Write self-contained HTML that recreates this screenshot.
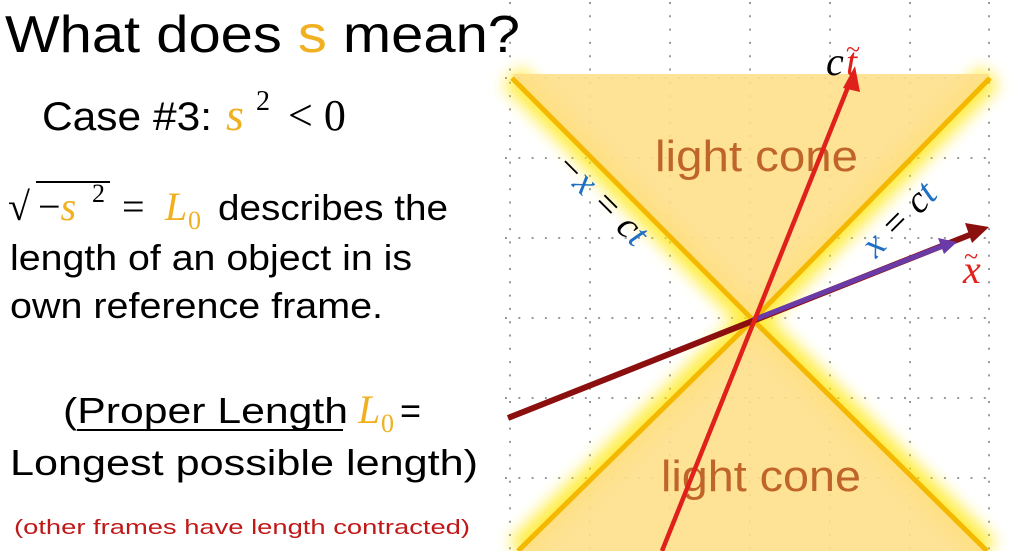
<!DOCTYPE html>
<html><head><meta charset="utf-8"><style>
html,body{margin:0;padding:0;background:#fff;width:1023px;height:551px;overflow:hidden}
svg{display:block}
</style></head><body>
<svg width="1023" height="551" viewBox="0 0 1023 551" xmlns="http://www.w3.org/2000/svg">
<defs>
<filter id="blur" x="-20%" y="-20%" width="140%" height="140%"><feGaussianBlur stdDeviation="8"/></filter>
</defs>
<rect width="1023" height="551" fill="#fff"/>
<!-- grid -->
<g stroke="#9a9a9a" stroke-width="2" stroke-dasharray="2 11.3" fill="none">
<line x1="510" y1="2" x2="510" y2="551"/><line x1="590" y1="2" x2="590" y2="551"/><line x1="670" y1="2" x2="670" y2="551"/><line x1="750" y1="2" x2="750" y2="551"/><line x1="830" y1="2" x2="830" y2="551"/><line x1="910" y1="2" x2="910" y2="551"/><line x1="989" y1="2" x2="989" y2="551"/>
<line x1="505" y1="78" x2="995" y2="78"/><line x1="505" y1="158" x2="995" y2="158"/><line x1="505" y1="238" x2="995" y2="238"/><line x1="505" y1="318" x2="995" y2="318"/><line x1="505" y1="398" x2="995" y2="398"/><line x1="505" y1="478" x2="995" y2="478"/>
</g>
<!-- cones glow -->
<g filter="url(#blur)" stroke="#ffe600" stroke-width="26" fill="none" opacity="0.75">
<polyline points="512,76 753,320 990,76"/>
<polyline points="518,551 753,320 987,551"/>
</g>
<polygon points="512,74 990,74 753,320" fill="#fedf8a" opacity="0.9"/>
<polygon points="753,320 518,551 987,551" fill="#fedf8a" opacity="0.9"/>
<g stroke="#f5b800" stroke-width="5" fill="none">
<polyline points="512,78 753,320 990,78"/>
<polyline points="518,551 753,320 987,551"/>
</g>
<!-- light cone labels -->
<g font-family="Liberation Sans, sans-serif" font-size="44" fill="#c0652a">
<text x="655" y="171" textLength="203" lengthAdjust="spacingAndGlyphs">light cone</text>
<text x="661" y="491" textLength="200" lengthAdjust="spacingAndGlyphs">light cone</text>
</g>
<!-- axes -->
<line x1="508" y1="418" x2="972" y2="234" stroke="#8b0f0f" stroke-width="6"/>
<polygon points="989,227 965,223 972,243" fill="#8b0f0f"/>
<line x1="753" y1="320" x2="945" y2="245" stroke="#6a3aa8" stroke-width="5"/>
<polygon points="957,242 938,238 944,254" fill="#6a3aa8"/>
<line x1="662" y1="551" x2="850" y2="82" stroke="#e0201a" stroke-width="4.5"/>
<polygon points="855,66 843,88 860,92" fill="#e0201a"/>
<!-- axis labels -->
<g font-family="Liberation Serif, serif" font-style="italic" font-size="40">
<text x="826" y="75" fill="#000">c</text>
<text x="846" y="75" fill="#e0201a">t</text>
<text x="846" y="58" fill="#e0201a" font-size="26" font-style="normal">~</text>
<text x="963" y="283" fill="#e0201a">x</text>
<text x="964" y="265" fill="#e0201a" font-size="26" font-style="normal">~</text>
</g>
<g font-family="Liberation Serif, serif" font-style="italic" font-size="38">
<text transform="translate(553,167) rotate(45)"><tspan fill="#000">−</tspan><tspan fill="#1f6fc2">x</tspan><tspan fill="#000"> = c</tspan><tspan fill="#1f6fc2">t</tspan></text>
<text transform="translate(876,259) rotate(-45)"><tspan fill="#1f6fc2">x</tspan><tspan fill="#000"> = c</tspan><tspan fill="#1f6fc2">t</tspan></text>
</g>
<!-- left text -->
<g font-family="Liberation Sans, sans-serif" fill="#000">
<text x="5" y="52" font-size="52" textLength="515" lengthAdjust="spacingAndGlyphs">What does <tspan fill="#f0b020">s</tspan> mean?</text>
<text x="42" y="130" font-size="40" textLength="170" lengthAdjust="spacingAndGlyphs">Case #3:</text>
<text x="226" y="130" font-size="46" font-family="Liberation Serif, serif" font-style="italic" fill="#f0b020">s</text>
<text x="256" y="110" font-size="28" font-family="Liberation Serif, serif">2</text>
<text x="288" y="130" font-size="44" font-family="Liberation Serif, serif">&lt; 0</text>
<text x="8" y="220" font-size="40" font-family="Liberation Serif, serif">√</text>
<line x1="36" y1="182" x2="110" y2="182" stroke="#000" stroke-width="2"/>
<text x="38" y="220" font-size="40" font-family="Liberation Serif, serif">−<tspan font-style="italic" fill="#f0b020">s</tspan></text>
<text x="92" y="202" font-size="26" font-family="Liberation Serif, serif">2</text>
<text x="122" y="220" font-size="40" font-family="Liberation Serif, serif">=</text>
<text x="165" y="220" font-size="40" font-family="Liberation Serif, serif" font-style="italic" fill="#f0b020">L</text>
<text x="188" y="229" font-size="26" font-family="Liberation Serif, serif" fill="#f0b020">0</text>
<text x="218" y="220" font-size="36" textLength="230" lengthAdjust="spacingAndGlyphs">describes the</text>
<text x="10" y="270" font-size="36" textLength="402" lengthAdjust="spacingAndGlyphs">length of an object in is</text>
<text x="10" y="318" font-size="36" textLength="373" lengthAdjust="spacingAndGlyphs">own reference frame.</text>
<text x="63" y="423" font-size="36" textLength="285" lengthAdjust="spacingAndGlyphs">(Proper Length</text>
<line x1="77" y1="430" x2="343" y2="430" stroke="#000" stroke-width="2"/>
<text x="358" y="423" font-size="40" font-family="Liberation Serif, serif" font-style="italic" fill="#f0b020">L</text>
<text x="381" y="432" font-size="26" font-family="Liberation Serif, serif" fill="#f0b020">0</text>
<text x="400" y="423" font-size="36">=</text>
<text x="10" y="475" font-size="36" textLength="468" lengthAdjust="spacingAndGlyphs">Longest possible length)</text>
<text x="14" y="534" font-size="20" fill="#c01818" textLength="456" lengthAdjust="spacingAndGlyphs">(other frames have length contracted)</text>
</g>
</svg>
</body></html>
